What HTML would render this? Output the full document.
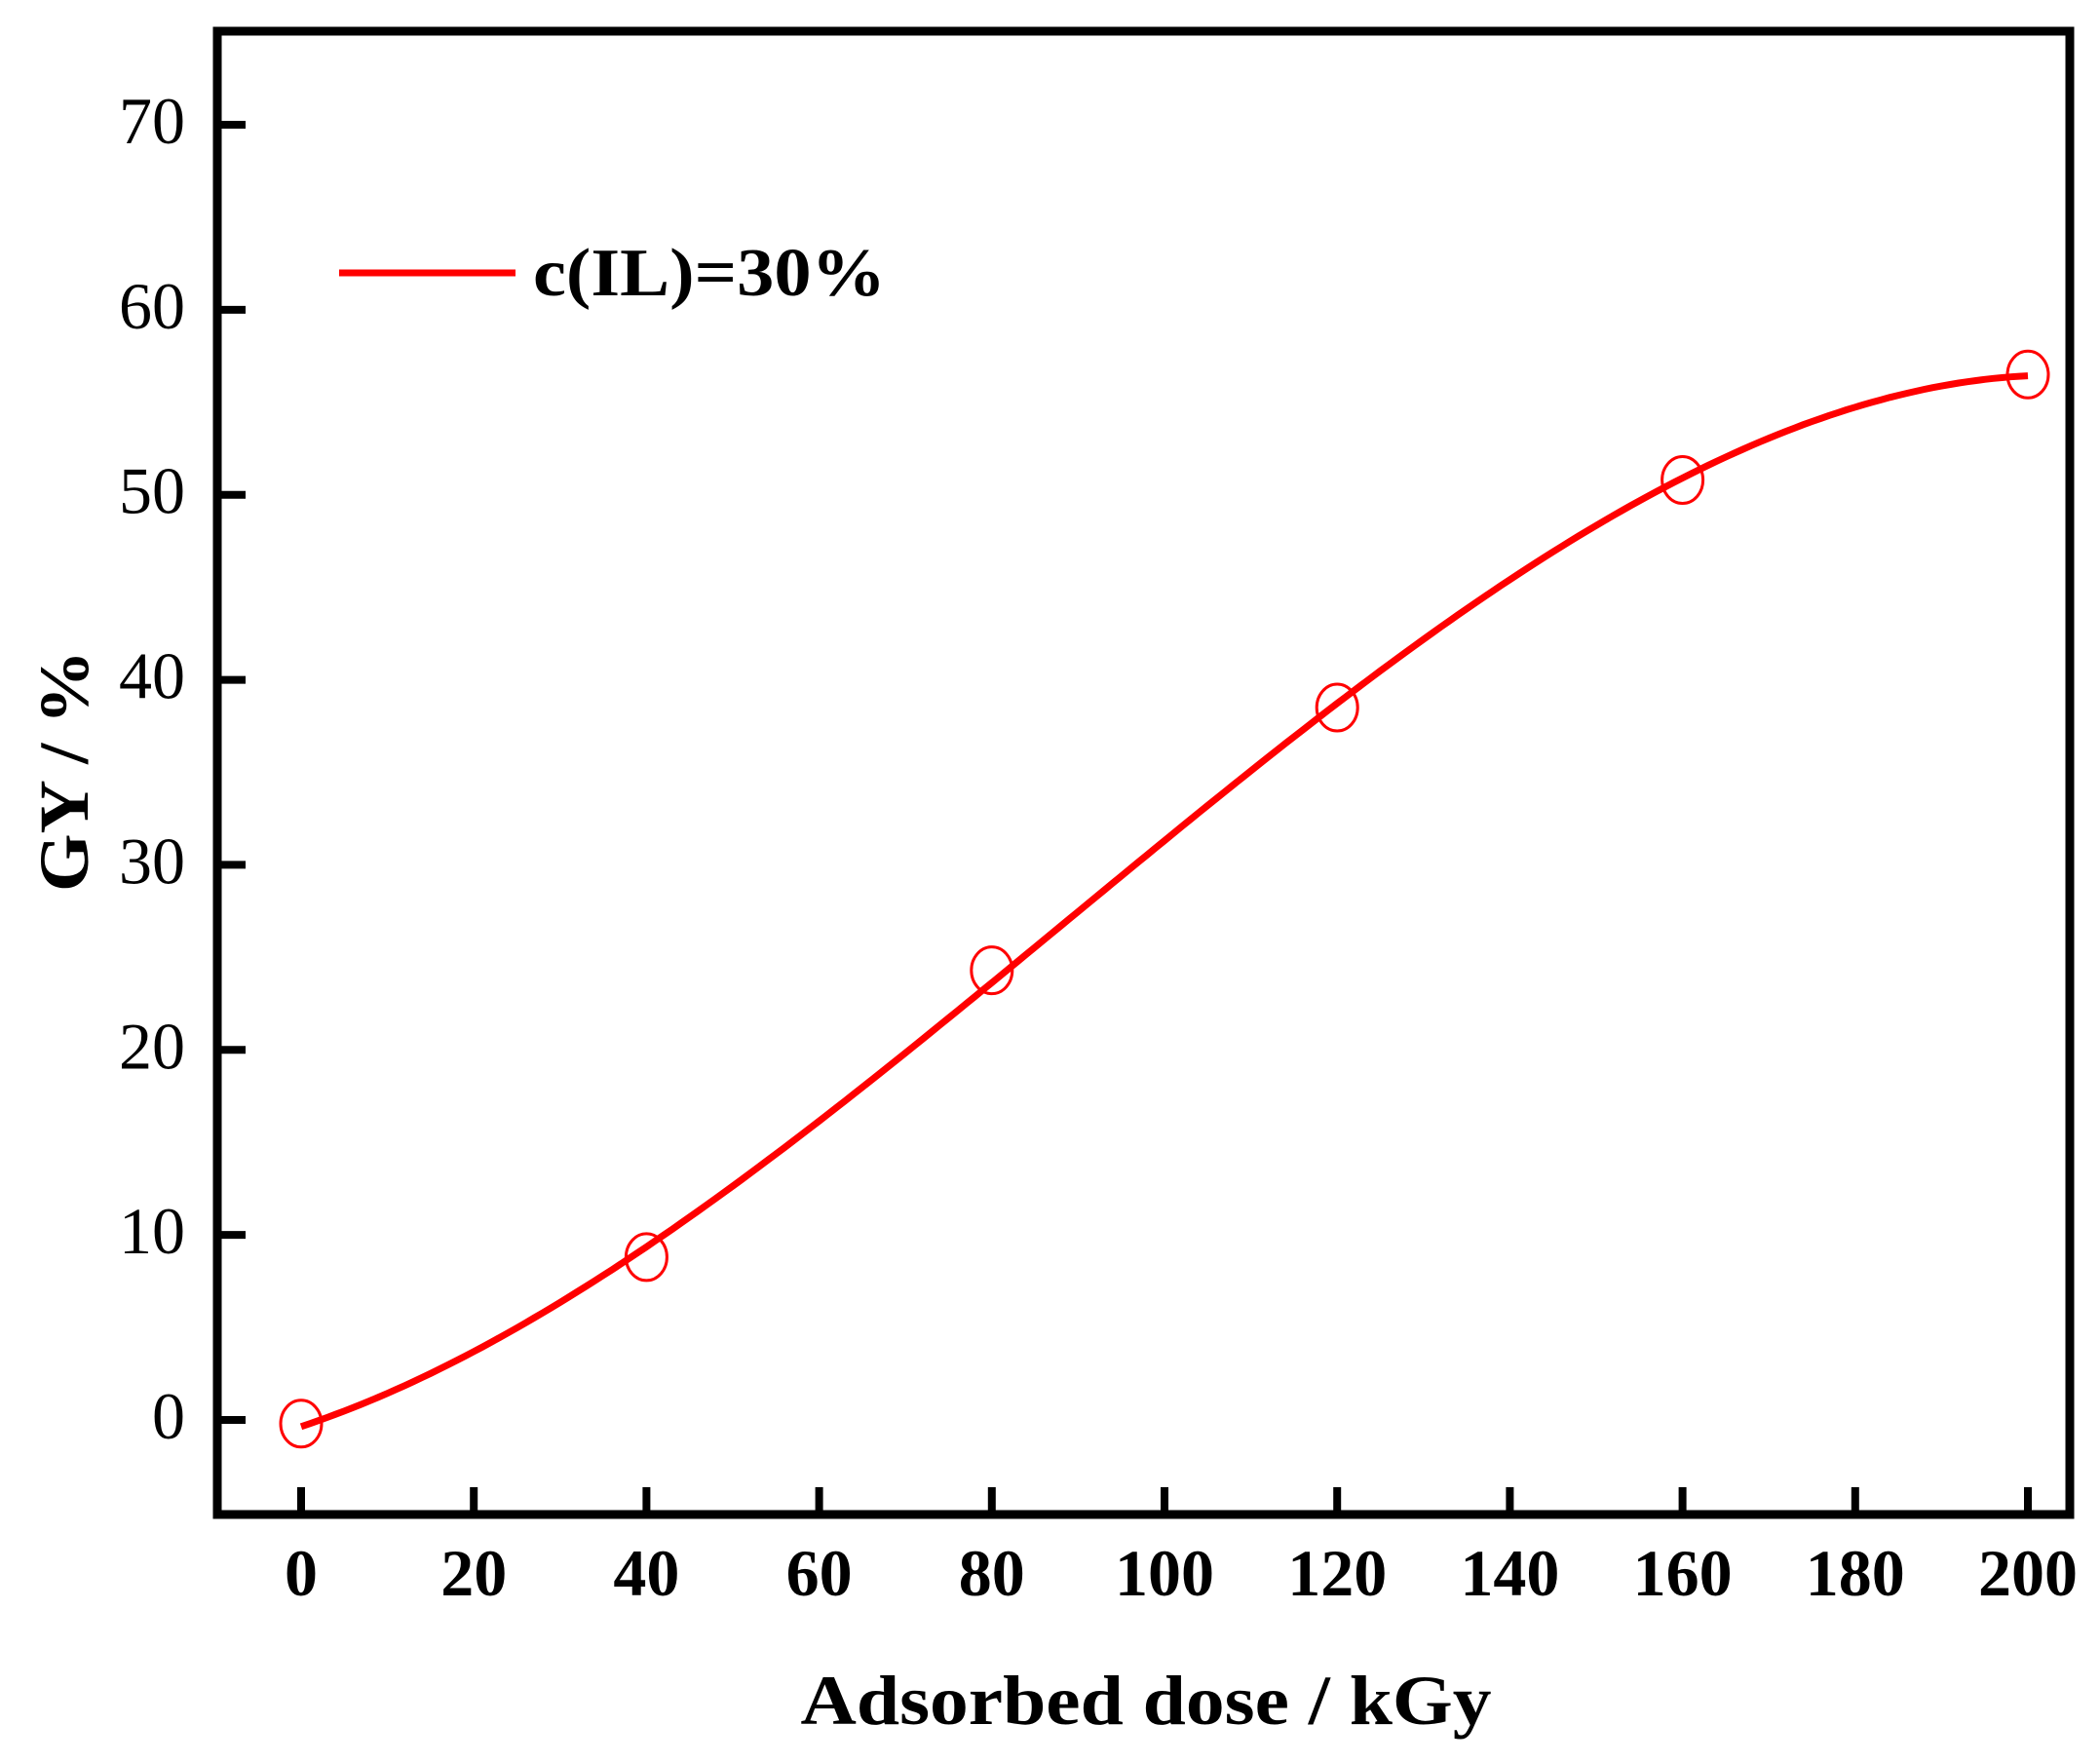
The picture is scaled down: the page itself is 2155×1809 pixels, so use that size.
<!DOCTYPE html>
<html><head><meta charset="utf-8"><style>
html,body{margin:0;padding:0;background:#fff;}
svg{display:block;font-family:"Liberation Serif",serif;}
</style></head><body>
<svg id="chart" width="2155" height="1809" viewBox="0 0 2155 1809">
<g id="axes"></g>
<g id="plot"></g>
<g>
<line x1="348" y1="280" x2="529" y2="280" stroke="#ff0000" stroke-width="7"/>
<text x="547" y="303" font-size="70" font-weight="bold" textLength="362" lengthAdjust="spacingAndGlyphs">c(IL)=30%</text>
</g>
<text x="1176" y="1769" font-size="72" font-weight="bold" text-anchor="middle" textLength="709" lengthAdjust="spacingAndGlyphs">Adsorbed dose / kGy</text>
<text transform="translate(90,791) rotate(-90)" font-size="72" font-weight="bold" text-anchor="middle" textLength="248" lengthAdjust="spacingAndGlyphs">GY / %</text>
</svg>
<script>
const xTicks = [0,20,40,60,80,100,120,140,160,180,200];
const yTicks = [0,10,20,30,40,50,60,70];
const doses = [0,40,80,120,160,200];
const gy = [-0.2,8.8,24.3,38.5,50.8,56.5];

const L=223,T=32,R=2124,B=1554;
const X0=309,X200=2081,Y0=1457,Y70=128;
const sx=v=>X0+(v-0)*(X200-X0)/200;
const sy=v=>Y0-(v-0)*(Y0-Y70)/70;
const NS="http://www.w3.org/2000/svg";
const axes=document.getElementById('axes'), plot=document.getElementById('plot');
function mk(tag,attrs,parent){const e=document.createElementNS(NS,tag);for(const k in attrs)e.setAttribute(k,attrs[k]);parent.appendChild(e);return e;}

const frame=mk('rect',{x:L,y:T,width:R-L,height:B-T,fill:'none',stroke:'#000','stroke-width':9},axes);



xTicks.forEach(v=>{
  const t=mk('line',{x1:sx(v),x2:sx(v),y1:B,y2:B-28,stroke:'#000','stroke-width':8},axes);
  
  
  const l=mk('text',{x:sx(v),y:1637,'font-size':68,'font-weight':'bold','text-anchor':'middle'},axes);
  l.textContent=v;
  
  
});
yTicks.forEach(v=>{
  const t=mk('line',{x1:L,x2:L+29,y1:sy(v),y2:sy(v),stroke:'#000','stroke-width':8},axes);
  
  
  const l=mk('text',{x:190,y:sy(v)+19,'font-size':68,'text-anchor':'end'},axes);
  l.textContent=v;
  
  
});

// least-squares cubic fit through data
function fit(xs,ys,deg){
  const n=deg+1,A=[...Array(n)].map(()=>Array(n+1).fill(0));
  xs.forEach((x,i)=>{const u=x/100;for(let r=0;r<n;r++){for(let c=0;c<n;c++)A[r][c]+=Math.pow(u,r+c);A[r][n]+=ys[i]*Math.pow(u,r);}});
  for(let i=0;i<n;i++){let p=i;for(let k=i+1;k<n;k++)if(Math.abs(A[k][i])>Math.abs(A[p][i]))p=k;[A[i],A[p]]=[A[p],A[i]];
    for(let k=0;k<n;k++)if(k!==i){const f=A[k][i]/A[i][i];for(let c=i;c<=n;c++)A[k][c]-=f*A[i][c];}}
  return A.map((r,i)=>r[n]/r[i]);
}
const co=fit(doses,gy,3);
let d='';
const xmin=doses[0],xmax=doses[doses.length-1];
for(let i=0;i<=200;i++){const x=xmin+(xmax-xmin)*i/200,u=x/100;let y=0;co.forEach((c,k)=>y+=c*Math.pow(u,k));d+=(i?'L':'M')+sx(x).toFixed(1)+','+sy(y).toFixed(1);}
const curve=mk('path',{d:d,fill:'none',stroke:'#ff0000','stroke-width':7,'stroke-linejoin':'round'},plot);



doses.forEach((x,i)=>{
  const c=mk('ellipse',{cx:sx(x),cy:sy(gy[i]),rx:21,ry:24,fill:'none',stroke:'#ff0000','stroke-width':3},plot);
  
  
});
</script>
</body></html>
